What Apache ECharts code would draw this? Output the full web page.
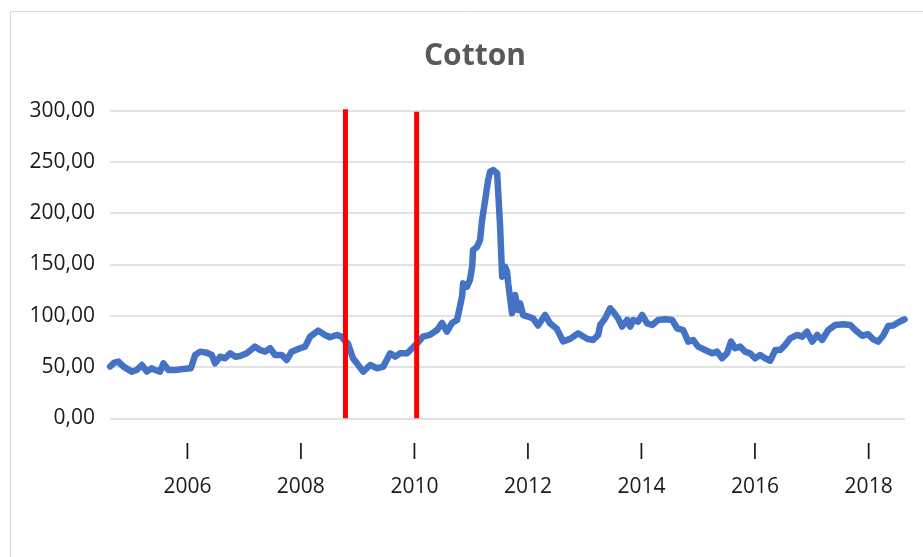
<!DOCTYPE html>
<html>
<head>
<meta charset="utf-8">
<title>Cotton</title>
<script src="https://cdn.jsdelivr.net/npm/echarts@6/dist/echarts.min.js"></script>
<style>
  html, body { margin: 0; padding: 0; background: #ffffff; }
  #chart { width: 923px; height: 557px; }
</style>
</head>
<body>
<div id="chart"></div>
<script>
// Cotton price series (dates and values)
const dates = [
  '2004-08-22','2004-09-15','2004-10-14','2004-11-16','2005-01-08','2005-02-09','2005-03-14','2005-04-15',
  '2005-05-17','2005-06-07','2005-07-09','2005-07-31','2005-09-01','2005-10-14','2005-12-06','2006-01-23',
  '2006-02-20','2006-03-24','2006-05-06','2006-06-07','2006-06-28','2006-07-31','2006-09-01','2006-10-03',
  '2006-11-04','2006-12-06','2007-01-18','2007-03-12','2007-04-13','2007-05-16','2007-06-17','2007-07-19',
  '2007-08-31','2007-10-02','2007-11-03','2007-12-27','2008-01-28','2008-02-29','2008-04-22','2008-06-04',
  '2008-07-06','2008-08-18','2008-09-19','2008-10-14','2008-10-30','2008-12-01','2008-12-27','2009-02-05',
  '2009-03-22','2009-05-06','2009-06-14','2009-07-29','2009-08-30','2009-10-01','2009-11-15','2009-12-17',
  '2010-01-18','2010-02-25','2010-04-11','2010-05-26','2010-06-27','2010-07-29','2010-08-31','2010-10-02',
  '2010-11-03','2010-11-10','2010-12-05','2010-12-24','2011-01-07','2011-01-13','2011-02-08','2011-02-27',
  '2011-03-12','2011-04-01','2011-04-20','2011-05-03','2011-05-22','2011-06-17','2011-06-23','2011-07-06',
  '2011-07-12','2011-07-19','2011-08-07','2011-08-20','2011-08-27','2011-09-21','2011-10-11','2011-10-30',
  '2011-11-12','2011-12-01','2012-01-02','2012-02-03','2012-03-06','2012-04-20','2012-05-22','2012-07-06',
  '2012-08-14','2012-09-28','2012-11-18','2013-01-16','2013-02-23','2013-03-28','2013-04-10','2013-05-12',
  '2013-06-13','2013-07-02','2013-08-03','2013-08-29','2013-09-30','2013-10-20','2013-11-08','2013-12-10',
  '2014-01-05','2014-02-06','2014-03-10','2014-04-18','2014-06-02','2014-07-17','2014-08-18','2014-09-26',
  '2014-10-28','2014-11-29','2014-12-31','2015-02-14','2015-03-31','2015-05-02','2015-06-03','2015-07-05',
  '2015-07-31','2015-08-26','2015-09-27','2015-10-29','2015-11-30','2016-01-02','2016-02-03','2016-03-06',
  '2016-04-08','2016-05-10','2016-06-11','2016-07-13','2016-08-14','2016-09-28','2016-10-30','2016-12-01',
  '2017-01-03','2017-02-04','2017-03-08','2017-04-16','2017-05-31','2017-07-21','2017-09-05','2017-10-07',
  '2017-11-21','2017-12-29','2018-01-30','2018-03-03','2018-04-04','2018-05-07','2018-06-08','2018-07-10',
  '2018-08-11','2018-08-20'
];

const prices = [
  50.5, 54.0, 55.3, 50.4, 45.5, 47.1, 52.0, 45.5,
  48.8, 47.1, 45.5, 53.6, 47.1, 47.0, 48.0, 48.8,
  61.8, 65.0, 64.0, 61.8, 53.6, 60.1, 58.5, 63.4,
  60.1, 60.8, 63.4, 69.9, 66.6, 65.0, 68.3, 61.8,
  61.8, 56.9, 65.0, 68.3, 69.9, 79.6, 85.5, 81.3,
  79.0, 81.3, 79.6, 75.0, 73.0, 58.5, 53.6, 45.5,
  52.0, 48.8, 50.4, 63.4, 60.1, 63.4, 63.4, 68.3,
  73.1, 79.6, 81.3, 86.1, 93.0, 84.5, 93.0, 95.9,
  118.6, 131.6, 128.4, 134.9, 147.9, 164.1, 167.4, 173.9,
  193.4, 212.9, 232.4, 240.5, 242.1, 238.9, 222.6, 186.9,
  164.1, 138.1, 147.9, 143.0, 131.6, 102.4, 120.2, 105.6,
  112.0, 100.7, 99.1, 97.5, 90.5, 100.8, 92.6, 87.0,
  75.0, 77.5, 82.9, 77.5, 76.4, 81.3, 91.0, 97.5,
  107.3, 104.0, 97.5, 89.4, 95.9, 89.4, 95.9, 94.3,
  100.8, 92.6, 91.0, 95.9, 96.5, 95.9, 87.8, 86.1,
  74.8, 76.4, 69.9, 66.6, 63.4, 65.0, 58.5, 63.4,
  74.8, 68.3, 69.9, 65.0, 63.4, 58.5, 61.8, 58.5,
  56.2, 66.6, 66.6, 71.5, 78.0, 81.3, 79.6, 84.5,
  74.8, 81.3, 76.4, 86.1, 91.0, 91.7, 91.0, 86.1,
  80.5, 82.0, 77.0, 74.8, 80.5, 90.0, 90.5, 93.5,
  95.9, 96.5
];

// Vertical red markers: date and top value of each bar
const markerDates = ['2008-10-14', '2010-01-15'];
const markerTops = [301.5, 299];

// Years labelled on the date axis
const labelYears = [2006, 2008, 2010, 2012, 2014, 2016, 2018];

// Visible date range of the axis
const axisStart = '2004-08-21';
const axisEnd = '2018-08-23';

const FONT = "'Open Sans', 'Noto Sans', sans-serif";
const LABEL_COLOR = '#1a1a1a';
const toTime = s => new Date(s + 'T00:00:00').getTime();

const chart = echarts.init(document.getElementById('chart'), null, { renderer: 'canvas' });

const priceSeries = {
  type: 'line',
  name: 'Cotton',
  data: dates.map((d, i) => [toTime(d), prices[i]]),
  symbol: 'none',
  showSymbol: false,
  lineStyle: { color: '#4472C4', width: 6.5, cap: 'round', join: 'round' },
  itemStyle: { color: '#4472C4' },
  z: 2
};

const markerSeries = markerDates.map((d, i) => ({
  type: 'line',
  data: [[toTime(d), 0], [toTime(d), markerTops[i]]],
  symbol: 'none',
  clip: false,
  lineStyle: { color: '#FF0000', width: 5 },
  z: 3
}));

chart.setOption({
  animation: false,
  backgroundColor: '#ffffff',
  textStyle: { fontFamily: FONT },
  title: {
    text: 'Cotton',
    left: 470,
    top: 36,
    textAlign: 'center',
    textStyle: { fontFamily: FONT, fontSize: 30, fontWeight: 'bold', color: '#595959' }
  },
  graphic: [{
    type: 'rect',
    shape: { x: 10.5, y: 11.5, width: 960, height: 620 },
    style: { fill: 'none', stroke: '#d9d9d9', lineWidth: 1 },
    silent: true,
    z: -1
  }],
  grid: { left: 110, right: 18, top: 110.7, bottom: 138.7, containLabel: false },
  xAxis: {
    type: 'value',
    min: toTime(axisStart),
    max: toTime(axisEnd),
    axisLine: { show: false },
    axisTick: { show: false },
    splitLine: { show: false },
    axisLabel: {
      customValues: labelYears.map(y => toTime(y + '-01-01')),
      margin: 18,
      formatter: v => '{t|I}\n{y|' + new Date(v).getFullYear() + '}',
      rich: {
        t: { fontFamily: FONT, fontSize: 21, lineHeight: 34, color: LABEL_COLOR },
        y: { fontFamily: FONT, fontSize: 21, lineHeight: 34, color: LABEL_COLOR }
      }
    }
  },
  yAxis: {
    type: 'value',
    min: 0,
    max: 300,
    interval: 50,
    axisLine: { show: false },
    axisTick: { show: false },
    splitLine: { show: true, lineStyle: { color: '#d9d9d9', width: 1.5 } },
    axisLabel: {
      margin: 15,
      fontFamily: FONT,
      fontSize: 21,
      color: LABEL_COLOR,
      formatter: v => v.toFixed(2).replace('.', ',')
    }
  },
  series: [priceSeries, ...markerSeries]
});
</script>
</body>
</html>
